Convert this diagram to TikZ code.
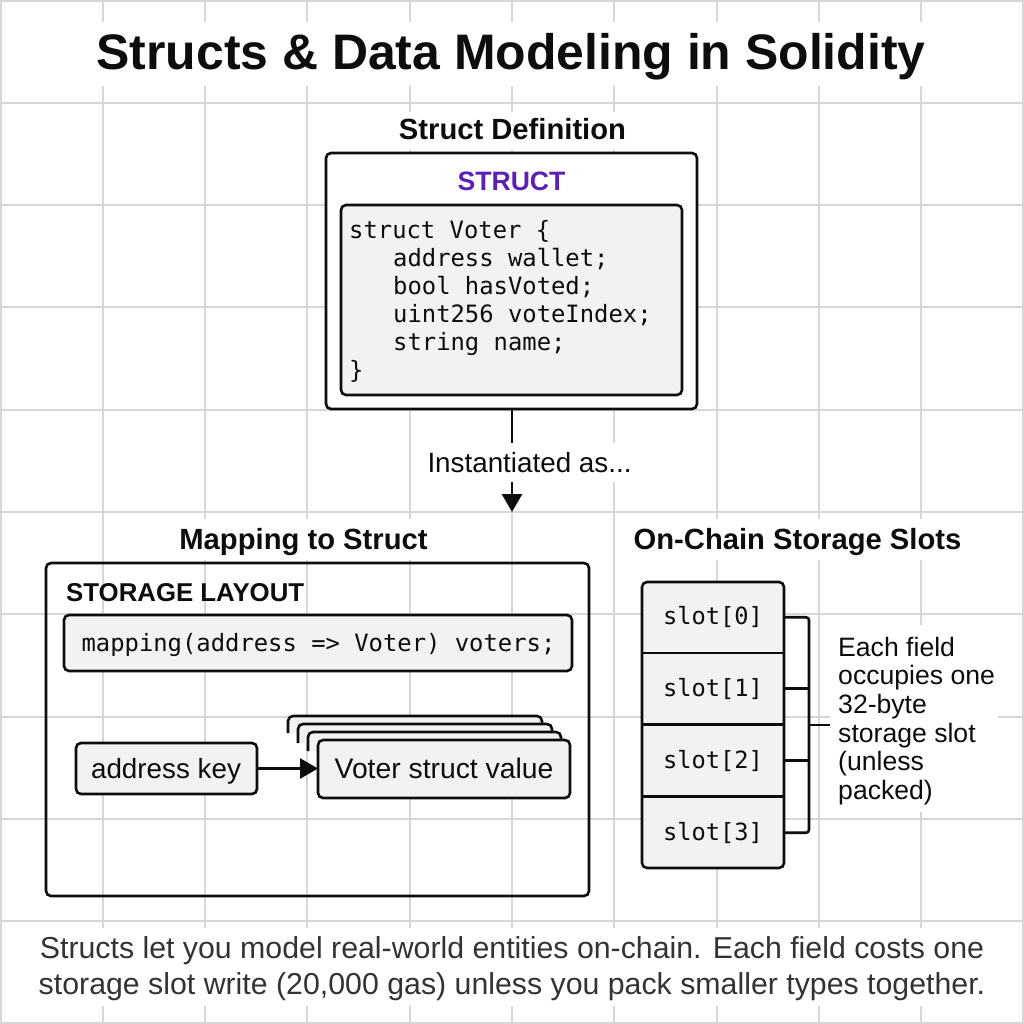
\documentclass[tikz,border=0pt]{standalone}
\usepackage{fontspec}
\usetikzlibrary{arrows.meta}
\setmainfont{Liberation Sans}
\newfontfamily\headfont{Liberation Sans}
\newfontfamily\codefont{DejaVu Sans Mono}
\definecolor{gridc}{HTML}{D6D6D6}
\definecolor{boxfill}{HTML}{F2F2F2}
\definecolor{ink}{HTML}{0D0D0D}
\definecolor{purp}{HTML}{5B21B6}
\newcommand{\fsz}[1]{\fontsize{#1pt}{#1pt}\selectfont}
\tikzset{
  x=1pt,y=-1pt,
  gridline/.style={draw=gridc,line width=1.6pt},
  mask/.style={fill=white,draw=none},
  outerbox/.style={draw=ink,fill=white,line width=2.6pt,rounded corners=5pt,outer sep=0pt,inner sep=0pt},
  innerbox/.style={draw=ink,fill=boxfill,line width=2.6pt,rounded corners=5pt,outer sep=0pt,inner sep=0pt},
  wire/.style={draw=ink,line width=2.6pt},
  txt/.style={inner sep=0pt,anchor=base,text=ink},
  head/.style={txt,font=\headfont\bfseries\fsz{29.2}},
  code/.style={inner sep=0pt,anchor=base west,text=ink,font=\codefont\fsz{23.85}},
  body/.style={txt,font=\fsz{27.8}},
  side/.style={txt,anchor=base west,font=\fsz{26.6}},
  foot/.style={txt,font=\fsz{30.3},text=black!80},
  tip/.style={-{Triangle[length=18pt,width=20pt]}},
  slotnode/.style={inner sep=0pt,outer sep=0pt,minimum width=142pt,minimum height=71.5pt,anchor=north west,text=ink,font=\codefont\fsz{23.7}},
}
\begin{document}
\begin{tikzpicture}
\useasboundingbox (0,0) rectangle (1024,1024);
\fill[white] (0,0) rectangle (1024,1024);
% grid
\foreach \p in {1,103,205,307,410,512,614,717,819,921,1023}{
  \draw[gridline] (\p,0) -- (\p,1024);
  \draw[gridline] (0,\p) -- (1024,\p);
}
% masks behind texts
\fill[mask] (88,22) rectangle (936,86);
\fill[mask] (390,112) rectangle (635,150);
\fill[mask] (170,519) rectangle (436,560);
\fill[mask] (626,519) rectangle (968,560);
\fill[mask] (830,625) rectangle (998,812);
\fill[mask] (30,928) rectangle (995,1006);
% title
\node[txt,font=\headfont\bfseries\fsz{49.9}] (title) at (511,70) {Structs \& Data Modeling in Solidity};
% struct
\node[head] (defhead) at (512.5,139.5) {Struct Definition};
\node[outerbox,minimum width=371pt,minimum height=256pt,anchor=north west] (structbox) at (326,153) {};
\node[txt,text=purp,font=\bfseries\fsz{26.6}] (structlabel) at (511.5,190.5) {STRUCT};
\node[innerbox,minimum width=341pt,minimum height=190pt,anchor=north west] (codebox) at (341,205) {};
\node[code] (c1) at (349,238.5) {struct Voter \{};
\node[code] (c2) at (393,266.5) {address wallet;};
\node[code] (c3) at (393,294.5) {bool hasVoted;};
\node[code] (c4) at (393,322.5) {uint256 voteIndex;};
\node[code] (c5) at (393,350.5) {string name;};
\node[code] (c6) at (349,378.5) {\}};
% instantiated arrow
\coordinate (arrowend) at (512,512);
\draw[wire,tip] (structbox.south -| arrowend) -- (arrowend);
\fill[mask] (420,443) rectangle (640,482);
\node[body] (inst) at (529.5,472) {Instantiated as...};
% mapping
\node[head] (maphead) at (303.5,549) {Mapping to Struct};
\node[head] (slothead) at (797.5,549) {On-Chain Storage Slots};
\node[outerbox,fill=none,minimum width=543pt,minimum height=333pt,anchor=north west] (storage) at (46,563) {};
\node[txt,anchor=base west,font=\bfseries\fsz{25.8}] (storagelabel) at (66,601) {STORAGE LAYOUT};
\node[innerbox,minimum width=508pt,minimum height=56pt,anchor=north west] (mapbox) at (64,615) {};
\node[code,anchor=base] (maptext) at (318.5,651) {mapping(address => Voter) voters;};
% stack behind voter
\fill[boxfill] (288,733) -- (288,716) -- (542,716) -- (542,724) -- (298,724) -- (298,733) -- cycle;
\fill[boxfill] (298,743) -- (298,724) -- (552,724) -- (552,732) -- (308,732) -- (308,743) -- cycle;
\fill[boxfill] (308,751) -- (308,732) -- (561,732) -- (561,740) -- (318,740) -- (318,751) -- cycle;
\draw[wire,rounded corners=5pt] (288,733) -- (288,716) -- (542,716) -- (542,724);
\draw[wire,rounded corners=5pt] (298,743) -- (298,724) -- (552,724) -- (552,732);
\draw[wire,rounded corners=5pt] (308,751) -- (308,732) -- (561,732) -- (561,740);
\node[innerbox,minimum width=252pt,minimum height=58pt,anchor=north west] (voter) at (318,740) {};
\node[txt,font=\fsz{28.3}] (votertext) at (444,778) {Voter struct value};
\node[innerbox,minimum width=181pt,minimum height=51pt,anchor=north west] (addr) at (76,743) {};
\node[body] (addrtext) at (166,778) {address key};
\draw[wire,tip] (addr.east) -- (voter.west |- addr.east);
% slots
\node[innerbox,minimum width=142pt,minimum height=286pt,anchor=north west] (slots) at (642,582) {};
\node[slotnode] (s0) at (642,581.5) {slot[0]\hspace{3pt}};
\node[slotnode] (s1) at (642,653) {slot[1]\hspace{3pt}};
\node[slotnode] (s2) at (642,725) {slot[2]\hspace{3pt}};
\node[slotnode] (s3) at (642,797) {slot[3]\hspace{3pt}};
\draw[wire] (s0.south west) -- (s0.south east);
\draw[wire] (s1.south west) -- (s1.south east);
\draw[wire] (s2.south west) -- (s2.south east);
% bracket
\coordinate (brk) at (809,725);
\coordinate (stem) at (830,725);
\draw[wire,rounded corners=3pt] (s0.east) -- (s0.east -| brk) -- (s3.east -| brk) -- (s3.east);
\draw[wire] (s1.east) -- (s1.east -| brk);
\draw[wire] (s2.east) -- (s2.east -| brk);
\draw[wire] (brk) -- (stem);
\node[side] (n1) at (838,656) {Each field};
\node[side] (n2) at (838,684.5) {occupies one};
\node[side] (n3) at (838,713) {32-byte};
\node[side] (n4) at (838,742) {storage slot};
\node[side] (n5) at (838,770.5) {(unless};
\node[side] (n6) at (838,799) {packed)};
% footer
\node[foot] (foot1) at (512,958) {Structs let you model real-world entities on-chain. Each field costs one};
\node[foot] (foot2) at (512,994) {storage slot write (20,000 gas) unless you pack smaller types together.};
\end{tikzpicture}
\end{document}
